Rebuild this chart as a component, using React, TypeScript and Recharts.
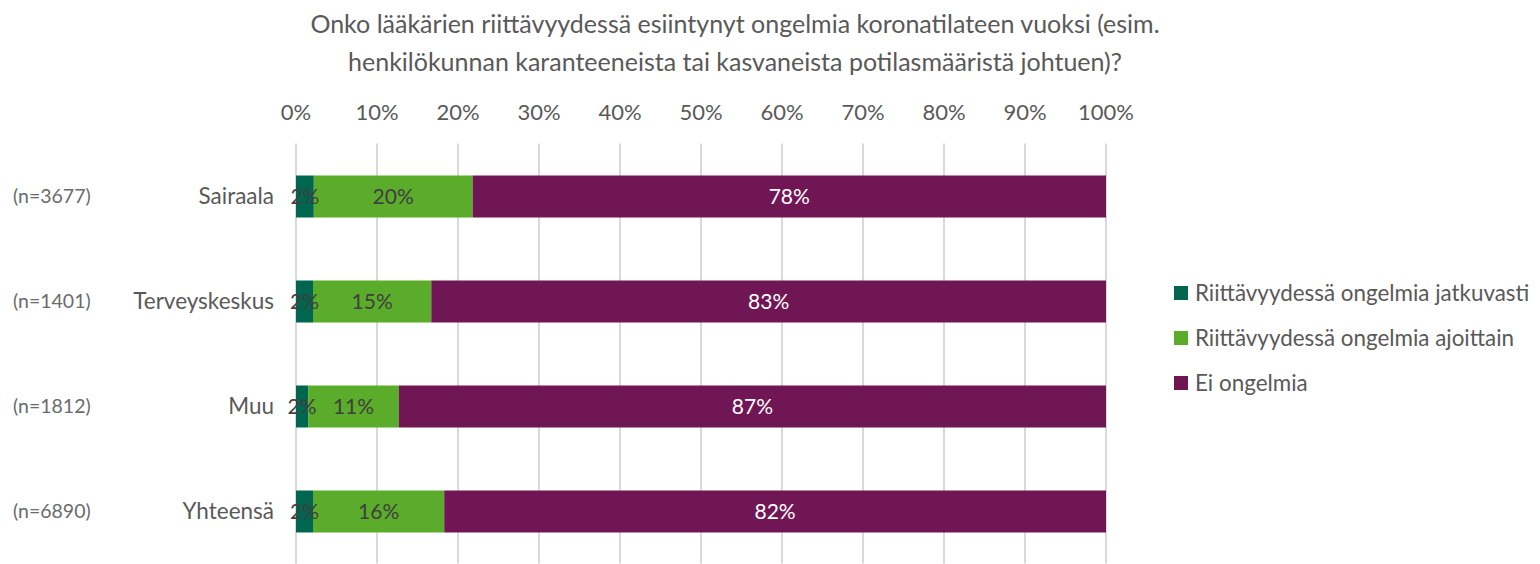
import { BarChart, Bar, XAxis, YAxis, CartesianGrid, LabelList } from 'recharts';

const categories = ['Sairaala', 'Terveyskeskus', 'Muu', 'Yhteensä'];
const sampleSizes = ['(n=3677)', '(n=1401)', '(n=1812)', '(n=6890)'];
const jatkuvasti = [2.2, 2.1, 1.5, 2.1];
const ajoittain = [19.6, 14.6, 11.2, 16.2];
const eiOngelmia = [78.2, 83.3, 87.3, 81.7];
const xTicks = [0, 10, 20, 30, 40, 50, 60, 70, 80, 90, 100];

const seriesNames = [
  'Riittävyydessä ongelmia jatkuvasti',
  'Riittävyydessä ongelmia ajoittain',
  'Ei ongelmia',
];
const colors = ['#006650', '#5aac2a', '#711655'];

const data = categories.map((name, i) => ({
  name,
  a: jatkuvasti[i],
  b: ajoittain[i],
  c: eiOngelmia[i],
}));

const FONT = 'Lato, "Open Sans", sans-serif';
const GREY = '#595959';

const fmt = (v: any) => `${Math.round(Number(v))}%`;

function CategoryTick(props: any) {
  const { y, payload, index } = props;
  return (
    <g>
      <text x={13} y={y} dy={7} fill="#6b6b6b" fontSize={19.5} fontFamily={FONT}>
        {sampleSizes[index]}
      </text>
      <text x={274} y={y} dy={8} textAnchor="end" fill={GREY} fontSize={22.5} fontFamily={FONT}>
        {payload.value}
      </text>
    </g>
  );
}

function PercentTick(props: any) {
  const { x, payload } = props;
  return (
    <text x={x} y={120} textAnchor="middle" fill={GREY} fontSize={22} fontFamily={FONT}>
      {payload.value}%
    </text>
  );
}

export default function App() {
  return (
    <div style={{ position: 'absolute', left: 0, top: 0, width: 1540, height: 564, background: '#fff' }}>
      <div
        style={{
          position: 'absolute',
          left: 0,
          top: 4,
          width: 1470,
          textAlign: 'center',
          fontFamily: FONT,
          fontSize: 25,
          lineHeight: '38px',
          color: GREY,
        }}
      >
        Onko lääkärien riittävyydessä esiintynyt ongelmia koronatilateen vuoksi (esim.
        <br />
        henkilökunnan karanteeneista tai kasvaneista potilasmääristä johtuen)?
      </div>
      <BarChart
        width={1540}
        height={564}
        data={data}
        layout="vertical"
        margin={{ top: 113.5, right: 434, bottom: 0.5, left: 0 }}
        barSize={42}
      >
        <CartesianGrid horizontal={false} stroke="#d9d9d9" strokeWidth={2} />
        <XAxis
          type="number"
          orientation="top"
          domain={[0, 100]}
          ticks={xTicks}
          axisLine={false}
          tickLine={false}
          tick={<PercentTick />}
          height={30}
        />
        <YAxis
          type="category"
          dataKey="name"
          width={296}
          axisLine={false}
          tickLine={false}
          tick={<CategoryTick />}
        />
        <Bar dataKey="a" name={seriesNames[0]} stackId="s" fill={colors[0]} isAnimationActive={false}>
          <LabelList dataKey="a" position="center" formatter={fmt} fill="#404040" fontSize={21} fontFamily={FONT} />
        </Bar>
        <Bar dataKey="b" name={seriesNames[1]} stackId="s" fill={colors[1]} isAnimationActive={false}>
          <LabelList dataKey="b" position="center" formatter={fmt} fill="#404040" fontSize={21} fontFamily={FONT} />
        </Bar>
        <Bar dataKey="c" name={seriesNames[2]} stackId="s" fill={colors[2]} isAnimationActive={false}>
          <LabelList dataKey="c" position="center" formatter={fmt} fill="#ffffff" fontSize={21} fontFamily={FONT} />
        </Bar>
      </BarChart>
      <div
        style={{
          position: 'absolute',
          left: 1174,
          top: 270,
          width: 366,
          fontFamily: FONT,
          fontSize: 22.4,
          color: GREY,
        }}
      >
        {seriesNames.map((s, i) => (
          <div key={s} style={{ display: 'flex', alignItems: 'center', height: 45 }}>
            <span style={{ width: 14, height: 14, background: colors[i], marginRight: 7, flexShrink: 0 }} />
            <span style={{ whiteSpace: 'nowrap' }}>{s}</span>
          </div>
        ))}
      </div>
    </div>
  );
}
